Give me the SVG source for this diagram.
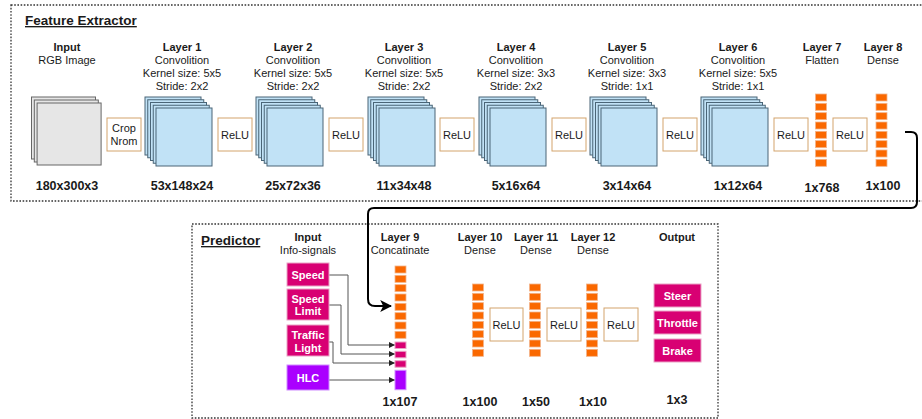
<svg xmlns="http://www.w3.org/2000/svg" width="922" height="419" viewBox="0 0 922 419">
<style>
text{font-family:"Liberation Sans",Arial,sans-serif;fill:#1a1a1a;text-anchor:middle}
.h{font-size:11px;font-weight:bold}
.n{font-size:11px}
.b{font-size:12.5px;font-weight:bold}
.t{font-size:13.5px;font-weight:bold;text-anchor:start;text-decoration:underline}
.w{font-size:11px;font-weight:bold;fill:#fff}
.frame{fill:none;stroke:#333;stroke-width:1.3;stroke-dasharray:1.6 1.6}
.gray{fill:#e6e6e6;stroke:#666;stroke-width:1}
.blue{fill:#c1e2f6;stroke:#4a6577;stroke-width:1}
.relu{fill:#fff;stroke:#d3a46c;stroke-width:1}
.cell{fill:#fa6800;stroke:#f3b48a;stroke-width:0.8}
.mag{fill:#d80073;stroke:#eaa3c6;stroke-width:1}
.pur{fill:#aa00ff;stroke:#cf8cff;stroke-width:1}
.thin{fill:none;stroke:#555;stroke-width:1}
.thick{fill:none;stroke:#000;stroke-width:2}
</style>
<defs>
<marker id="ah" viewBox="0 0 10 10" refX="10" refY="5" markerWidth="6" markerHeight="6" orient="auto" markerUnits="userSpaceOnUse"><path d="M0,0 L10,5 L0,10 z" fill="#222"/></marker>
<marker id="ahb" viewBox="0 0 10 10" refX="9" refY="5" markerWidth="12" markerHeight="12" orient="auto" markerUnits="userSpaceOnUse"><path d="M0,0 L10,5 L0,10 L2.5,5 z" fill="#000"/></marker>
<g id="conv">
<rect class="blue" x="-11" y="-11" width="56" height="58"/>
<rect class="blue" x="-8.25" y="-8.25" width="56" height="58"/>
<rect class="blue" x="-5.5" y="-5.5" width="56" height="58"/>
<rect class="blue" x="-2.75" y="-2.75" width="56" height="58"/>
<rect class="blue" x="0" y="0" width="56" height="58"/>
</g>
<g id="col8">
<rect class="cell" x="0" y="0" width="11" height="7"/>
<rect class="cell" x="0" y="9.33" width="11" height="7"/>
<rect class="cell" x="0" y="18.67" width="11" height="7"/>
<rect class="cell" x="0" y="28" width="11" height="7"/>
<rect class="cell" x="0" y="37.33" width="11" height="7"/>
<rect class="cell" x="0" y="46.67" width="11" height="7"/>
<rect class="cell" x="0" y="56" width="11" height="7"/>
<rect class="cell" x="0" y="65.33" width="11" height="7"/>
</g>
</defs>
<rect width="922" height="419" fill="#fff"/>

<!-- frames -->
<g id="feature-extractor">
<rect class="frame" x="11" y="5" width="915" height="196"/>
<text class="t" x="25" y="25">Feature Extractor</text>
</g>
<g id="predictor">
<rect class="frame" x="192" y="224" width="526" height="194"/>
<text class="t" x="201" y="245">Predictor</text>
</g>

<!-- connectors -->
<g id="connectors">
<path class="thick" d="M905,132 H911 Q917,132 917,138 V202 Q917,208 911,208 H374 Q368,208 368,214 V299 Q368,306 375,306 H391" marker-end="url(#ahb)"/>
<path class="thin" d="M329,275 H348 V345 H395" marker-end="url(#ah)"/>
<path class="thin" d="M329,305 H341 V354 H395" marker-end="url(#ah)"/>
<path class="thin" d="M329,342 H333 V363 H395" marker-end="url(#ah)"/>
<path class="thin" d="M329,380 H395" marker-end="url(#ah)"/>
</g>

<!-- Input -->
<g id="input">
<text class="h" x="67" y="51">Input</text>
<text class="n" x="67" y="64">RGB Image</text>
<rect class="gray" x="31.5" y="97" width="64" height="62"/>
<rect class="gray" x="34.3" y="100" width="64" height="62"/>
<rect class="gray" x="37.1" y="103" width="64" height="62"/>
<text class="b" x="67" y="190">180x300x3</text>
</g>
<g id="crop"><rect class="relu" x="107" y="118" width="34" height="33"/><text class="n" x="124" y="132">Crop</text><text class="n" x="124" y="145">Nrom</text></g>

<g id="layer1">
<text class="h" x="182" y="51">Layer 1</text><text class="n" x="182" y="64">Convolition</text><text class="n" x="182" y="77">Kernel size: 5x5</text><text class="n" x="182" y="90">Stride: 2x2</text>
<use href="#conv" x="156" y="108"/>
<text class="b" x="182" y="190">53x148x24</text>
</g>
<g id="relu1"><rect class="relu" x="218" y="118" width="34" height="33"/><text class="n" x="235" y="138.5">ReLU</text></g>

<g id="layer2">
<text class="h" x="293" y="51">Layer 2</text><text class="n" x="293" y="64">Convolition</text><text class="n" x="293" y="77">Kernel size: 5x5</text><text class="n" x="293" y="90">Stride: 2x2</text>
<use href="#conv" x="267" y="108"/>
<text class="b" x="293" y="190">25x72x36</text>
</g>
<g id="relu2"><rect class="relu" x="329" y="118" width="34" height="33"/><text class="n" x="346" y="138.5">ReLU</text></g>

<g id="layer3">
<text class="h" x="404" y="51">Layer 3</text><text class="n" x="404" y="64">Convolition</text><text class="n" x="404" y="77">Kernel size: 5x5</text><text class="n" x="404" y="90">Stride: 2x2</text>
<use href="#conv" x="379" y="108"/>
<text class="b" x="404" y="190">11x34x48</text>
</g>
<g id="relu3"><rect class="relu" x="440" y="118" width="34" height="33"/><text class="n" x="457" y="138.5">ReLU</text></g>

<g id="layer4">
<text class="h" x="516" y="51">Layer 4</text><text class="n" x="516" y="64">Convolition</text><text class="n" x="516" y="77">Kernel size: 3x3</text><text class="n" x="516" y="90">Stride: 2x2</text>
<use href="#conv" x="490" y="108"/>
<text class="b" x="516" y="190">5x16x64</text>
</g>
<g id="relu4"><rect class="relu" x="552" y="118" width="34" height="33"/><text class="n" x="569" y="138.5">ReLU</text></g>

<g id="layer5">
<text class="h" x="627" y="51">Layer 5</text><text class="n" x="627" y="64">Convolition</text><text class="n" x="627" y="77">Kernel size: 3x3</text><text class="n" x="627" y="90">Stride: 1x1</text>
<use href="#conv" x="601" y="108"/>
<text class="b" x="627" y="190">3x14x64</text>
</g>
<g id="relu5"><rect class="relu" x="663" y="118" width="34" height="33"/><text class="n" x="680" y="138.5">ReLU</text></g>

<g id="layer6">
<text class="h" x="738" y="51">Layer 6</text><text class="n" x="738" y="64">Convolition</text><text class="n" x="738" y="77">Kernel size: 5x5</text><text class="n" x="738" y="90">Stride: 1x1</text>
<use href="#conv" x="712" y="108"/>
<text class="b" x="738" y="190">1x12x64</text>
</g>
<g id="relu6"><rect class="relu" x="774" y="118" width="34" height="33"/><text class="n" x="791" y="138.5">ReLU</text></g>

<g id="layer7">
<text class="h" x="822" y="51">Layer 7</text><text class="n" x="822" y="64">Flatten</text>
<use href="#col8" x="815.5" y="94"/>
<text class="b" x="822" y="192">1x768</text>
</g>
<g id="relu7"><rect class="relu" x="833" y="118" width="34" height="33"/><text class="n" x="850" y="138.5">ReLU</text></g>

<g id="layer8">
<text class="h" x="883" y="51">Layer 8</text><text class="n" x="883" y="64">Dense</text>
<use href="#col8" x="876" y="94"/>
<text class="b" x="883" y="190">1x100</text>
</g>

<!-- Predictor -->
<g id="info-input">
<text class="h" x="308" y="241">Input</text><text class="n" x="308" y="254">Info-signals</text>
</g>
<g id="speed"><rect class="mag" x="287" y="263" width="42" height="23"/><text class="w" x="308" y="278.5">Speed</text></g>
<g id="speed-limit"><rect class="mag" x="287" y="289" width="42" height="31"/><text class="w" x="308" y="302.5">Speed</text><text class="w" x="308" y="315">Limit</text></g>
<g id="traffic-light"><rect class="mag" x="287" y="325" width="42" height="31"/><text class="w" x="308" y="339">Traffic</text><text class="w" x="308" y="351.5">Light</text></g>
<g id="hlc"><rect class="pur" x="287" y="365" width="42" height="25"/><text class="w" x="308" y="381.5">HLC</text></g>

<g id="layer9">
<text class="h" x="400" y="241">Layer 9</text><text class="n" x="400" y="254">Concatinate</text>
<use href="#col8" x="395" y="266"/>
<rect class="mag" x="395" y="342" width="11" height="6.5"/>
<rect class="mag" x="395" y="351.3" width="11" height="6.5"/>
<rect class="mag" x="395" y="360.7" width="11" height="6.5"/>
<rect class="pur" x="395" y="370.3" width="11" height="19.4"/>
<text class="b" x="400" y="406">1x107</text>
</g>

<g id="layer10">
<text class="h" x="480" y="241">Layer 10</text><text class="n" x="480" y="254">Dense</text>
<use href="#col8" x="472.5" y="284"/>
<text class="b" x="480" y="406">1x100</text>
</g>
<g id="relu10"><rect class="relu" x="490" y="308" width="33" height="33"/><text class="n" x="506.5" y="328.5">ReLU</text></g>
<g id="layer11">
<text class="h" x="536" y="241">Layer 11</text><text class="n" x="536" y="254">Dense</text>
<use href="#col8" x="529.5" y="284"/>
<text class="b" x="536" y="406">1x50</text>
</g>
<g id="relu11"><rect class="relu" x="547" y="308" width="34" height="33"/><text class="n" x="564" y="328.5">ReLU</text></g>
<g id="layer12">
<text class="h" x="593" y="241">Layer 12</text><text class="n" x="593" y="254">Dense</text>
<use href="#col8" x="586.5" y="284"/>
<text class="b" x="593" y="406">1x10</text>
</g>
<g id="relu12"><rect class="relu" x="604" y="308" width="34" height="33"/><text class="n" x="621" y="328.5">ReLU</text></g>

<g id="output">
<text class="h" x="677" y="241">Output</text>
<rect class="mag" x="654" y="284" width="47" height="23"/><text class="w" x="677.5" y="299.5">Steer</text>
<rect class="mag" x="654" y="311" width="47" height="23"/><text class="w" x="677.5" y="326.5">Throttle</text>
<rect class="mag" x="654" y="339" width="47" height="23"/><text class="w" x="677.5" y="354.5">Brake</text>
<text class="b" x="677" y="404">1x3</text>
</g>
</svg>
